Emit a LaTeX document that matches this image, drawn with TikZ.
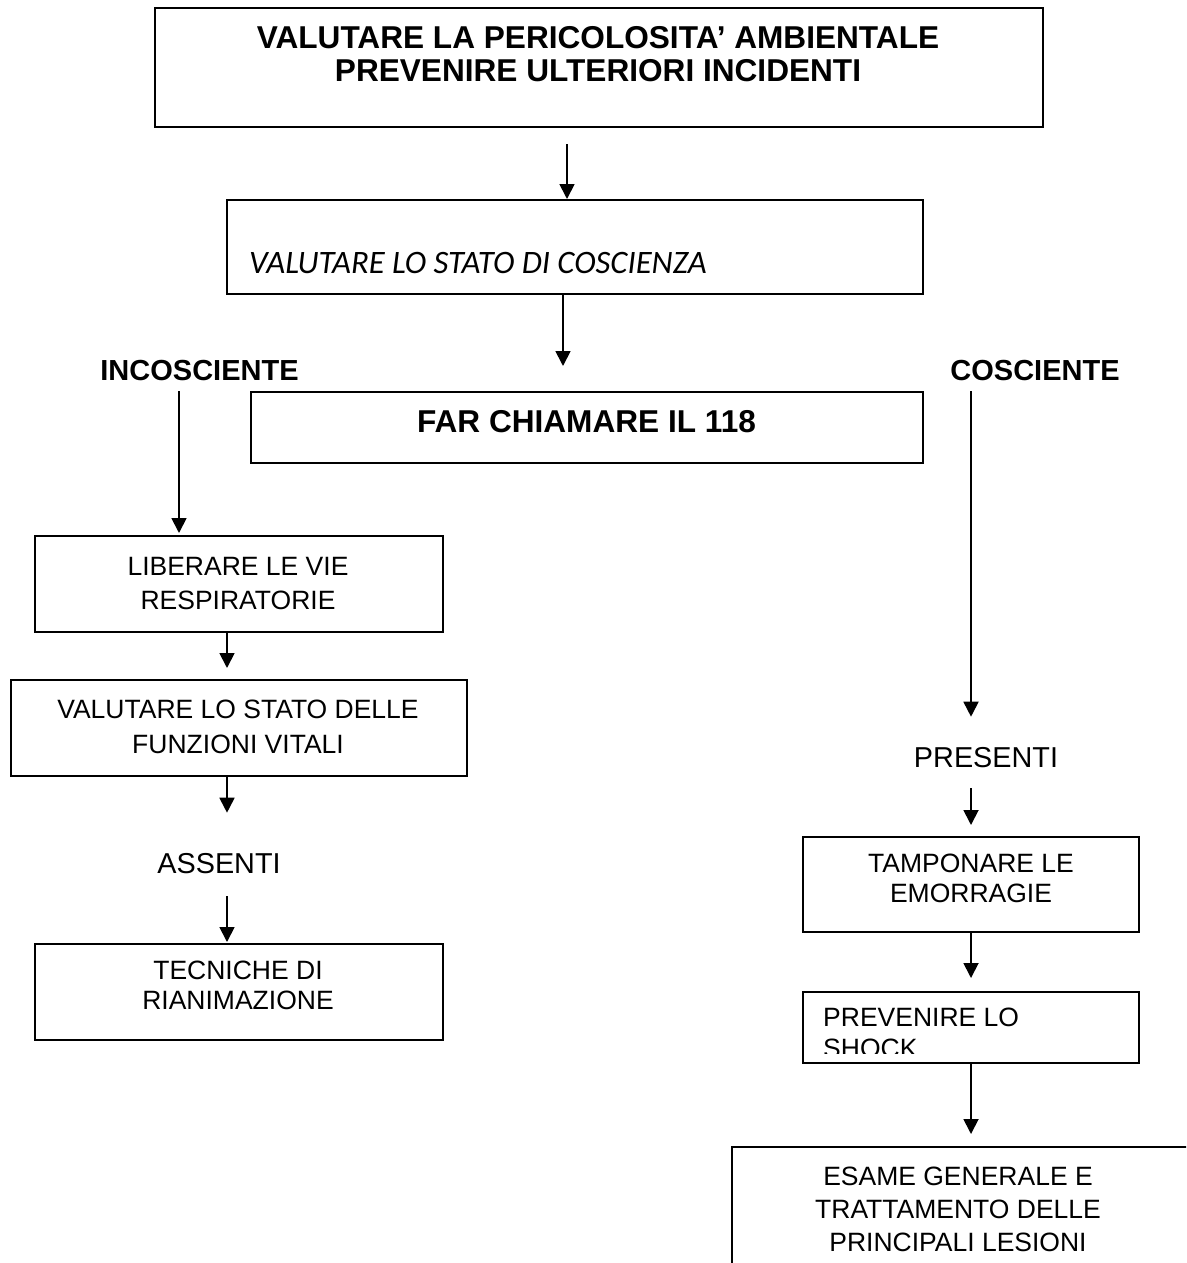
\documentclass[tikz,border=0pt]{standalone}
\usepackage{fontspec}
\setmainfont{Liberation Sans}
\newfontfamily\calfont{Carlito}
\usetikzlibrary{arrows.meta}
\tikzset{
  box/.style={draw=black, line width=2pt, rectangle, inner sep=0pt, fill=none},
  arr/.style={line width=1.8pt, -{Triangle[width=15pt,length=15pt]}},
  txt/.style={inner sep=0pt, font=\fontsize{26.5}{34}\selectfont, align=center},
  lbl/.style={inner sep=0pt, anchor=base, font=\fontsize{28.8}{33}\selectfont},
  blbl/.style={inner sep=0pt, anchor=base, font=\bfseries\fontsize{29}{33}\selectfont},
}
\begin{document}
\begin{tikzpicture}[x=1pt, y=-1pt]
\useasboundingbox (0,0) rectangle (1186,1263);
\clip (0,0) rectangle (1186,1263);
\fill[white] (0,0) rectangle (1186,1263);
% column coordinates
\coordinate (cA) at (567,0);
\coordinate (cB) at (563,0);
\coordinate (cC) at (179,0);
\coordinate (cD) at (227,0);
\coordinate (cE) at (971,0);
% boxes
\node[box, line width=2.6pt, minimum width=888pt, minimum height=119pt] (b1) at (599,67.5) {};
\node[box, minimum width=696pt, minimum height=94pt] (b2) at (575,247) {};
\node[box, minimum width=672pt, minimum height=71pt] (far) at (587,427.5) {};
\node[box, minimum width=408pt, minimum height=96pt] (lib) at (239,584) {};
\node[box, minimum width=456pt, minimum height=96pt] (vf) at (239,728) {};
\node[box, minimum width=408pt, minimum height=96pt] (tec) at (239,992) {};
\node[box, minimum width=336pt, minimum height=95pt] (tamp) at (971,884.5) {};
\node[box, minimum width=336pt, minimum height=71pt] (prev) at (971,1027.5) {};
\node[box, minimum width=500pt, minimum height=200pt] (esa) at (982,1247) {};
% texts
\node[txt, anchor=north, font=\bfseries\fontsize{31.6}{33}\selectfont] (t1) at (598,26) {VALUTARE LA PERICOLOSITA’ AMBIENTALE\\PREVENIRE ULTERIORI INCIDENTI};
\node[inner sep=0pt, anchor=base west, font=\calfont\itshape\fontsize{32.7}{36}\selectfont] (t2) at (249,273) {VALUTARE LO STATO DI COSCIENZA};
\node[inner sep=0pt, anchor=base, font=\bfseries\fontsize{31.6}{34}\selectfont] (t3) at (586.5,432) {FAR CHIAMARE IL 118};
\node[blbl] (inc) at (199.5,380) {INCOSCIENTE};
\node[blbl] (cos) at (1035,380) {COSCIENTE};
\node[txt, anchor=north, font=\fontsize{26.5}{34}\selectfont] (t4) at (238,557) {LIBERARE LE VIE\\RESPIRATORIE};
\node[txt, anchor=north, font=\fontsize{26.5}{35}\selectfont] (t5) at (238,700) {VALUTARE LO STATO DELLE\\FUNZIONI VITALI};
\node[lbl] (ass) at (219,873) {ASSENTI};
\node[txt, anchor=north, font=\fontsize{26.5}{30}\selectfont] (t6) at (238,961) {TECNICHE DI\\RIANIMAZIONE};
\node[lbl] (pre) at (986,767) {PRESENTI};
\node[txt, anchor=north, font=\fontsize{26.5}{30}\selectfont] (t7) at (971,854) {TAMPONARE LE\\EMORRAGIE};
\begin{scope}
\clip (803,992) rectangle (1139,1053);
\node[txt, anchor=north west, align=left, font=\fontsize{26.5}{31}\selectfont] (t8) at (823,1008) {PREVENIRE LO\\SHOCK};
\end{scope}
\node[txt, anchor=north, font=\fontsize{26.5}{33}\selectfont] (t9) at (958,1167) {ESAME GENERALE E\\TRATTAMENTO DELLE\\PRINCIPALI LESIONI};
% connectors
\draw[arr, shorten <=16pt] (b1.south -| cA) -- (b2.north -| cA);
\draw[arr, shorten >=25pt] (b2.south -| cB) -- (far.north -| cB);
\draw[arr, shorten <=11pt, shorten >=2pt] (inc.south -| cC) -- (lib.north -| cC);
\draw[arr, shorten >=11pt] (lib.south -| cD) -- (vf.north -| cD);
\draw[arr, shorten >=40pt] (vf.south -| cD) -- (ass.north -| cD);
\draw[arr, shorten <=23pt, shorten >=1pt] (ass.south -| cD) -- (tec.north -| cD);
\draw[arr, shorten <=11pt, shorten >=30pt] (cos.south -| cE) -- (pre.north -| cE);
\draw[arr, shorten <=21pt, shorten >=11pt] (pre.south -| cE) -- (tamp.north -| cE);
\draw[arr, shorten >=13pt] (tamp.south -| cE) -- (prev.north -| cE);
\draw[arr, shorten >=12pt] (prev.south -| cE) -- (esa.north -| cE);
\end{tikzpicture}
\end{document}
